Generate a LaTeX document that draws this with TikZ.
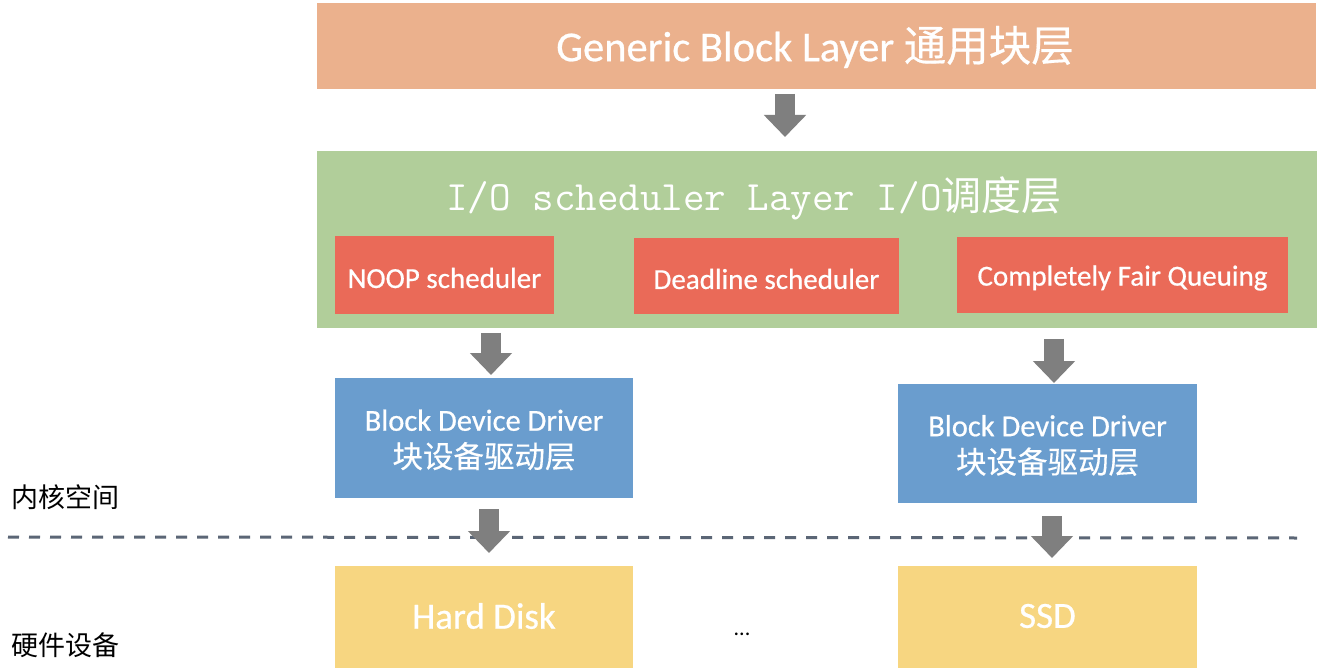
\documentclass[tikz,border=0pt]{standalone}
\usepackage{fontspec}
\setmainfont{Carlito}
\newfontfamily\calfb[FakeBold=0.6]{Carlito}
\newfontfamily\cjk{Noto Sans CJK SC}
\newfontfamily\cjkw[FakeBold=0.4]{Noto Sans CJK SC}
\usetikzlibrary{arrows.meta}
\definecolor{corange}{HTML}{EBB18D}
\definecolor{cgreen}{HTML}{B1CE9A}
\definecolor{cred}{HTML}{EA6A58}
\definecolor{cblue}{HTML}{6A9DCE}
\definecolor{cyellow}{HTML}{F7D681}
\definecolor{carrow}{HTML}{7F7F7F}
\definecolor{cdash}{HTML}{5B6676}
\tikzset{
  box/.style={anchor=north west, inner sep=0pt, outer sep=0pt, text=white, align=center},
  wtext/.style={text=white, inner sep=0pt, align=center},
  barrow/.style={draw=carrow, line width=20pt, -{Triangle[width=41pt,length=22pt]}},
  sidelabel/.style={anchor=west, inner sep=0pt, text=black, font=\cjk\fontsize{27}{30}\selectfont},
}
\begin{document}
\begin{tikzpicture}[x=1pt,y=-1pt]
\useasboundingbox[fill=white] (0,0) rectangle (1320,668);
% top layer
\node[box, fill=corange, minimum width=999pt, minimum height=86pt] (gbl) at (317,3) {};
\node[wtext, font=\calfb\fontsize{42.5}{48}\selectfont] (gblt) at (815,47) {Generic Block Layer {\cjkw 通用块层}};
% scheduler layer
\node[box, fill=cgreen, minimum width=1000pt, minimum height=177pt] (iol) at (317,151) {};
\node[wtext, font=\ttfamily\fontsize{41.8}{46}\selectfont] (iolt) at (754,198) {I/O scheduler Layer I/O{\cjk\fontsize{40}{46}\selectfont 调度层}};
\node[box, fill=cred, minimum width=219pt, minimum height=78pt] (noop) at (335,236) {};
\node[wtext, font=\calfb\fontsize{29}{34}\selectfont] at ([yshift=-3pt]noop.center) {NOOP scheduler};
\node[box, fill=cred, minimum width=265pt, minimum height=76pt] (dl) at (634,238) {};
\node[wtext, font=\calfb\fontsize{29}{34}\selectfont] at ([yshift=-3pt]dl.center) {Deadline scheduler};
\node[box, fill=cred, minimum width=331pt, minimum height=76pt] (cfq) at (957,237) {};
\node[wtext, font=\calfb\fontsize{29}{34}\selectfont] at ([yshift=-3pt]cfq.center) {Completely Fair Queuing};
% drivers
\node[box, fill=cblue, minimum width=298pt, minimum height=120pt] (bdd1) at (335,378) {};
\node[wtext, font=\calfb\fontsize{30.5}{37}\selectfont] at ([yshift=-2pt]bdd1.center) {Block Device Driver\\{\cjkw 块设备驱动层}};
\node[box, fill=cblue, minimum width=299pt, minimum height=119pt] (bdd2) at (898,384) {};
\node[wtext, font=\calfb\fontsize{30.5}{37}\selectfont] at ([yshift=-2pt]bdd2.center) {Block Device Driver\\{\cjkw 块设备驱动层}};
% devices
\node[box, fill=cyellow, minimum width=298pt, minimum height=102pt] (hd) at (335,566) {};
\node[wtext, font=\calfb\fontsize{37}{42}\selectfont] at ([yshift=1pt]hd.center) {Hard Disk};
\node[box, fill=cyellow, minimum width=299pt, minimum height=102pt] (ssd) at (898,566) {};
\node[wtext, font=\calfb\fontsize{37}{42}\selectfont] at ([yshift=1pt]ssd.center) {SSD};
\node[text=black, inner sep=0pt, font=\fontsize{22}{26}\selectfont] (dots) at (742,634) {...};
% dashed separator
\coordinate (dl0) at (8,537);
\coordinate (dl1) at (1297,538);
\draw[cdash, line width=3pt, dash pattern=on 11pt off 10pt] (dl0) -- (dl1);
% side labels
\node[sidelabel] (kern) at (11,497) {内核空间};
\node[sidelabel] (hw) at (11,645) {硬件设备};
% arrows
\coordinate (ax0) at (785,0);
\coordinate (ax1) at (491,0);
\coordinate (ax2) at (1054,0);
\coordinate (ax3) at (489,0);
\coordinate (ax4) at (1052,0);
\draw[barrow, shorten <=5pt, shorten >=14pt] (gbl.south -| ax0) -- (iol.north -| ax0);
\draw[barrow, shorten <=5pt, shorten >=3pt] (iol.south -| ax1) -- (bdd1.north -| ax1);
\draw[barrow, shorten <=11pt, shorten >=1pt] (iol.south -| ax2) -- (bdd2.north -| ax2);
\draw[barrow, shorten <=11pt, shorten >=13pt] (bdd1.south -| ax3) -- (hd.north -| ax3);
\draw[barrow, shorten <=13pt, shorten >=8pt] (bdd2.south -| ax4) -- (ssd.north -| ax4);
\end{tikzpicture}
\end{document}
